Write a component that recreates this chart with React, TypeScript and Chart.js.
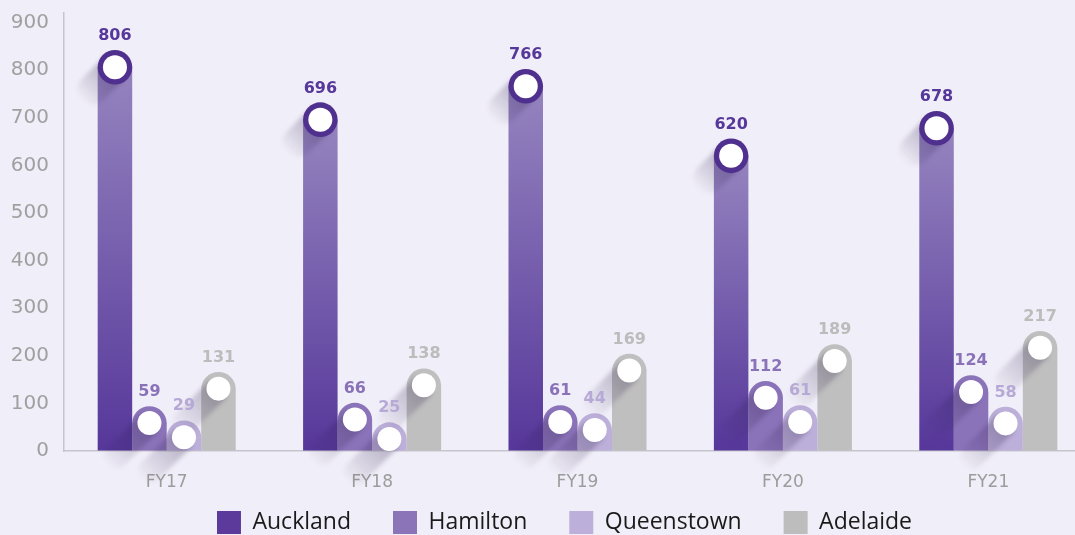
import React, { useEffect, useRef } from 'react';
import { Chart, registerables } from 'chart.js';

Chart.register(...registerables);

const categories = ['FY17', 'FY18', 'FY19', 'FY20', 'FY21'];
const seriesNames = ['Auckland', 'Hamilton', 'Queenstown', 'Adelaide'];
const auckland = [806, 696, 766, 620, 678];
const hamilton = [59, 66, 61, 112, 124];
const queenstown = [29, 25, 44, 61, 58];
const adelaide = [131, 138, 169, 189, 217];
const yTicks = [0, 100, 200, 300, 400, 500, 600, 700, 800, 900];

const seriesColors = ['#5b3a9b', '#8c74b9', '#bcb0da', '#bdbdbd'];
const barColors = ['#7a62ad', '#8b73b9', '#bcafd9', '#bfbfbf'];
const labelColors = ['#56379a', '#8a72b8', '#b6a9d6', '#bcbcbc'];
const ringColor = '#50308f';

function drawShadow(ctx: CanvasRenderingContext2D, cx: number, cy: number, r: number, len: number, alpha: number) {
  ctx.save();
  ctx.translate(cx, cy);
  ctx.rotate((Math.PI * 3) / 4);
  const g = ctx.createLinearGradient(0, 0, len + r, 0);
  g.addColorStop(0, `rgba(40,25,70,${alpha})`);
  g.addColorStop(1, 'rgba(40,25,70,0)');
  ctx.fillStyle = g;
  ctx.filter = 'blur(2px)';
  ctx.beginPath();
  ctx.moveTo(0, -r);
  ctx.lineTo(len, -r);
  ctx.arc(len, 0, r, -Math.PI / 2, Math.PI / 2);
  ctx.lineTo(0, r);
  ctx.closePath();
  ctx.fill();
  ctx.restore();
}

const pinPlugin = {
  id: 'pins',
  afterDatasetsDraw(chart: any) {
    const ctx: CanvasRenderingContext2D = chart.ctx;
    const ys = chart.scales.y;
    const items: { di: number; x: number; cy: number; w: number; v: number }[] = [];
    chart.data.datasets.forEach((ds: any, di: number) => {
      const meta = chart.getDatasetMeta(di);
      meta.data.forEach((el: any, i: number) => {
        const v = ds.data[i] as number;
        items.push({ di, x: el.x, cy: ys.getPixelForValue(v), w: el.width, v });
      });
    });
    // rounded caps for the small bars
    items.forEach((it) => {
      if (it.di === 0) return;
      ctx.save();
      ctx.fillStyle = barColors[it.di];
      ctx.beginPath();
      ctx.arc(it.x, it.cy + 0.5, it.w / 2, Math.PI, 0);
      ctx.closePath();
      ctx.fill();
      ctx.restore();
    });
    // long shadows
    items.forEach((it) => {
      if (it.di === 0) drawShadow(ctx, it.x, it.cy, 15, 32, 0.32);
      else drawShadow(ctx, it.x, it.cy, 12, 48, 0.3);
    });
    // circles
    items.forEach((it) => {
      ctx.save();
      if (it.di === 0) {
        ctx.fillStyle = ringColor;
        ctx.beginPath();
        ctx.arc(it.x, it.cy, 17.3, 0, Math.PI * 2);
        ctx.fill();
      }
      ctx.fillStyle = '#ffffff';
      ctx.beginPath();
      ctx.arc(it.x, it.cy, 12, 0, Math.PI * 2);
      ctx.fill();
      ctx.restore();
    });
    // value labels
    items.forEach((it) => {
      ctx.save();
      ctx.fillStyle = labelColors[it.di];
      ctx.font = 'bold 16px "DejaVu Sans"';
      ctx.textAlign = 'center';
      ctx.textBaseline = 'middle';
      ctx.fillText(String(it.v), it.x, it.cy - 31);
      ctx.restore();
    });
  },
};

const aucklandFill = (c: any) => {
  const chart = c.chart;
  const ys = chart.scales && chart.scales.y;
  if (!ys || c.raw == null) return barColors[0];
  const top = ys.getPixelForValue(c.raw);
  const bottom = ys.getPixelForValue(0);
  if (!isFinite(top) || !isFinite(bottom) || top === bottom) return barColors[0];
  const g = chart.ctx.createLinearGradient(0, top, 0, bottom);
  g.addColorStop(0, '#9584bf');
  g.addColorStop(1, '#56379a');
  return g;
};

export default function App() {
  const ref = useRef<HTMLCanvasElement>(null);
  useEffect(() => {
    document.body.style.margin = '0';
    const common = { categoryPercentage: 0.672, barPercentage: 1.0, borderWidth: 0 };
    const noClip = (s: any) => { s._computeLabelArea = () => undefined; };
    const chart = new Chart(ref.current as HTMLCanvasElement, {
      type: 'bar',
      data: {
        labels: categories,
        datasets: [
          { label: seriesNames[0], data: auckland, backgroundColor: aucklandFill, ...common },
          { label: seriesNames[1], data: hamilton, backgroundColor: barColors[1], ...common },
          { label: seriesNames[2], data: queenstown, backgroundColor: barColors[2], ...common },
          { label: seriesNames[3], data: adelaide, backgroundColor: barColors[3], ...common },
        ],
      },
      options: {
        animation: false,
        responsive: false,
        layout: { padding: { top: 13, left: 38, right: 38, bottom: 0 } },
        plugins: {
          tooltip: { enabled: false },
          legend: {
            position: 'bottom',
            labels: {
              boxWidth: 24,
              boxHeight: 23,
              padding: 42,
              color: '#1a1a1a',
              font: { family: '"Open Sans"', size: 23 },
              generateLabels: () =>
                seriesNames.map((n, i) => ({
                  text: n,
                  fillStyle: seriesColors[i],
                  strokeStyle: seriesColors[i],
                  lineWidth: 0,
                  hidden: false,
                  datasetIndex: i,
                  fontColor: '#1a1a1a',
                })),
            },
          },
        },
        scales: {
          x: {
            grid: { color: 'transparent', drawTicks: false },
            border: { display: true, color: '#c6c4cc', width: 1.5 },
            ticks: { color: '#9c9c9c', padding: 21, font: { family: '"DejaVu Sans"', size: 17 } },
            afterFit: (s: any) => { s.height = 18; s.paddingLeft = 0; s.paddingRight = 0; noClip(s); },
          },
          y: {
            min: 0,
            max: 920,
            grid: { color: 'transparent', drawTicks: false },
            border: { display: true, color: '#c6c4cc', width: 1.5 },
            ticks: { color: '#a0a0a0', padding: 15, font: { family: '"DejaVu Sans"', size: 20 } },
            afterBuildTicks: (s: any) => { s.ticks = yTicks.map((v) => ({ value: v })); },
            afterFit: (s: any) => { s.width = 26; s.paddingTop = 0; s.paddingBottom = 0; noClip(s); },
          },
        },
      },
      plugins: [pinPlugin],
    } as any);
    return () => chart.destroy();
  }, []);
  return (
    <div style={{ position: 'fixed', left: 0, top: 0, width: 1075, height: 535, overflow: 'hidden', background: '#f0eef8' }}>
      <canvas ref={ref} width={1129} height={544} style={{ display: 'block' }} />
    </div>
  );
}
